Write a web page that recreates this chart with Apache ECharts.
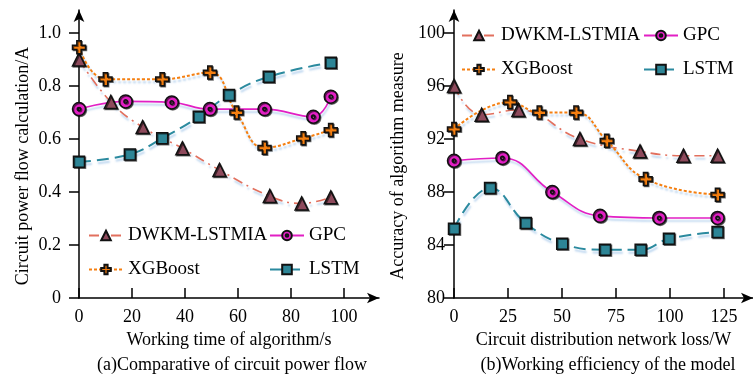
<!DOCTYPE html>
<html>
<head>
<meta charset="utf-8">
<script src="https://cdn.jsdelivr.net/npm/echarts@6/dist/echarts.min.js"></script>
<style>
  html, body { margin: 0; padding: 0; background: #fff; }
  #main { width: 753px; height: 376px; }
</style>
</head>
<body>
<div id="main"></div>
<script>
// (a) circuit power flow vs working time
var dwkmT = [0, 12, 24, 39, 53, 72, 84, 95];
var dwkmV = [0.90, 0.74, 0.645, 0.565, 0.483, 0.385, 0.357, 0.38];
var gpcT = [0, 17.6, 35, 49.4, 70, 88.4, 95];
var gpcV = [0.713, 0.742, 0.738, 0.713, 0.713, 0.684, 0.76];
var xgbT = [0, 10, 31.4, 49.4, 59.4, 70, 84.6, 95];
var xgbV = [0.946, 0.826, 0.826, 0.851, 0.70, 0.567, 0.603, 0.634];
var lstmT = [0, 19.2, 31.4, 45.2, 56.6, 71.6, 95];
var lstmV = [0.514, 0.542, 0.603, 0.684, 0.766, 0.835, 0.888];

// (b) accuracy vs network loss
var dwkmL = [0, 12.8, 29.8, 58.3, 86.1, 106.2, 122];
var dwkmA = [96.0, 93.83, 94.2, 92.0, 91.07, 90.74, 90.74];
var gpcL = [0, 22.4, 45.5, 67.6, 95, 122];
var gpcA = [90.36, 90.57, 88.0, 86.2, 86.04, 86.04];
var xgbL = [0, 25.9, 39.5, 56.5, 70.7, 88.7, 122];
var xgbA = [92.75, 94.79, 94.0, 94.0, 91.87, 88.98, 87.8];
var lstmL = [0, 16.7, 33.2, 50.1, 69.9, 86.4, 99.5, 122];
var lstmA = [85.23, 88.3, 85.66, 84.1, 83.65, 83.65, 84.47, 84.98];

var ticksA_x = [0, 20, 40, 60, 80, 100];
var ticksA_y = [0, 0.2, 0.4, 0.6, 0.8, 1.0];
var ticksB_x = [0, 25, 50, 75, 100, 125];
var ticksB_y = [80, 84, 88, 92, 96, 100];

var FONT = 'Liberation Serif';
var ringPath = 'path://M0,-10A10,10 0 1,1 0,10A10,10 0 1,1 0,-10ZM0,-2.6A2.6,2.6 0 1,0 0,2.6A2.6,2.6 0 1,0 0,-2.6Z';
var plusPath = 'path://M-1,-3H1V-1H3V1H1V3H-1V1H-3V-1H-1Z';

var shadow = { shadowColor: 'rgba(150,190,230,0.65)', shadowBlur: 2, shadowOffsetX: 1, shadowOffsetY: 3 };

var styles = {
    'DWKM-LSTMIA': { line: '#e2705e', fill: '#8e4a5c', type: [10, 5, 2, 5], width: 1.6, symbol: 'triangle', size: 13 },
    'GPC': { line: '#e21fc4', fill: '#e21fc4', type: 'solid', width: 1.6, symbol: ringPath, size: 13 },
    'XGBoost': { line: '#f57f10', fill: '#f57f10', type: [3, 2], width: 2, symbol: plusPath, size: 13 },
    'LSTM': { line: '#2b8a9f', fill: '#2d8596', type: [12, 6], width: 2, symbol: 'rect', size: 11 }
};

function zip(xs, ys) {
    return xs.map(function (x, i) { return [x, ys[i]]; });
}

function makeSeries(name, xs, ys, idx) {
    var s = styles[name];
    return {
        name: name,
        type: 'line',
        xAxisIndex: idx,
        yAxisIndex: idx,
        data: zip(xs, ys),
        smooth: 0.45,
        symbol: s.symbol,
        symbolSize: s.size,
        showAllSymbol: true,
        lineStyle: Object.assign({ color: s.line, width: s.width, type: s.type }, shadow),
        itemStyle: {
            color: s.fill,
            borderColor: '#111',
            borderWidth: 1.5,
            shadowColor: 'rgba(0,0,0,0.55)',
            shadowOffsetX: 1,
            shadowOffsetY: 1
        },
        emphasis: { disabled: true },
        animation: false
    };
}

function xAxisOf(idx, max, ticks, name) {
    return {
        type: 'value', gridIndex: idx, min: 0, max: max,
        name: name, nameLocation: 'middle', nameGap: 31,
        nameTextStyle: { fontFamily: FONT, fontSize: 18, color: '#000' },
        axisLine: { lineStyle: { color: '#000', width: 1.5 }, symbol: ['none', 'arrow'], symbolSize: [8, 12] },
        axisTick: { inside: true, length: 10, customValues: ticks, lineStyle: { color: '#000', width: 1.5 } },
        axisLabel: { customValues: ticks, margin: 10, fontFamily: FONT, fontSize: 18, color: '#000' },
        splitLine: { show: false }
    };
}

function yAxisOf(idx, min, max, ticks, name, margin, fmt) {
    return {
        type: 'value', gridIndex: idx, min: min, max: max,
        name: name, nameLocation: 'middle', nameGap: 47,
        nameTextStyle: { fontFamily: FONT, fontSize: 18, color: '#000', padding: [0, 24, 0, 0] },
        axisLine: { lineStyle: { color: '#000', width: 1.5 }, symbol: ['none', 'arrow'], symbolSize: [8, 12] },
        axisTick: { inside: false, length: 10, customValues: ticks, lineStyle: { color: '#000', width: 1.5 } },
        axisLabel: { customValues: ticks, margin: margin, fontFamily: FONT, fontSize: 18, color: '#000', formatter: fmt },
        splitLine: { show: false }
    };
}

function legendOf(left, top, data) {
    return {
        orient: 'vertical', left: left, top: top, data: data,
        itemWidth: 34, itemHeight: 12, itemGap: 15,
        selectedMode: false,
        textStyle: { fontFamily: FONT, fontSize: 19, color: '#000' }
    };
}

var dom = document.getElementById('main');
var myChart = echarts.init(dom, null, { renderer: 'canvas' });

var option = {
    backgroundColor: '#fff',
    animation: false,
    title: [
        { text: '(a)Comparative of circuit power flow', left: 227, top: 351, textAlign: 'center',
          textStyle: { fontFamily: FONT, fontSize: 18, fontWeight: 'normal', color: '#000' } },
        { text: '(b)Working efficiency of the model', left: 603, top: 351, textAlign: 'center',
          textStyle: { fontFamily: FONT, fontSize: 18, fontWeight: 'normal', color: '#000' } }
    ],
    legend: [
        legendOf(83, 221, ['DWKM-LSTMIA', 'XGBoost']),
        legendOf(264, 221, ['GPC', 'LSTM']),
        legendOf(456, 21, ['DWKM-LSTMIA', 'XGBoost']),
        legendOf(638, 21, ['GPC', 'LSTM'])
    ],
    grid: [
        { left: 79, top: 10, width: 300, height: 288 },
        { left: 454, top: 10, width: 299, height: 288 }
    ],
    xAxis: [
        xAxisOf(0, 113.2, ticksA_x, 'Working time of algorithm/s'),
        xAxisOf(1, 138.4, ticksB_x, 'Circuit distribution network loss/W')
    ],
    yAxis: [
        yAxisOf(0, 0, 1.087, ticksA_y, 'Circuit power flow calculation/A', 18, function (v) {
            return v === 0 ? '0' : v.toFixed(1);
        }),
        yAxisOf(1, 80, 101.74, ticksB_y, 'Accuracy of algorithm measure', 9, function (v) {
            return String(Math.round(v));
        })
    ],
    series: [
        makeSeries('DWKM-LSTMIA', dwkmT, dwkmV, 0),
        makeSeries('GPC', gpcT, gpcV, 0),
        makeSeries('XGBoost', xgbT, xgbV, 0),
        makeSeries('LSTM', lstmT, lstmV, 0),
        makeSeries('DWKM-LSTMIA', dwkmL, dwkmA, 1),
        makeSeries('GPC', gpcL, gpcA, 1),
        makeSeries('XGBoost', xgbL, xgbA, 1),
        makeSeries('LSTM', lstmL, lstmA, 1)
    ]
};

if (option && typeof option === 'object') {
    myChart.setOption(option, true);
}
</script>
</body>
</html>
